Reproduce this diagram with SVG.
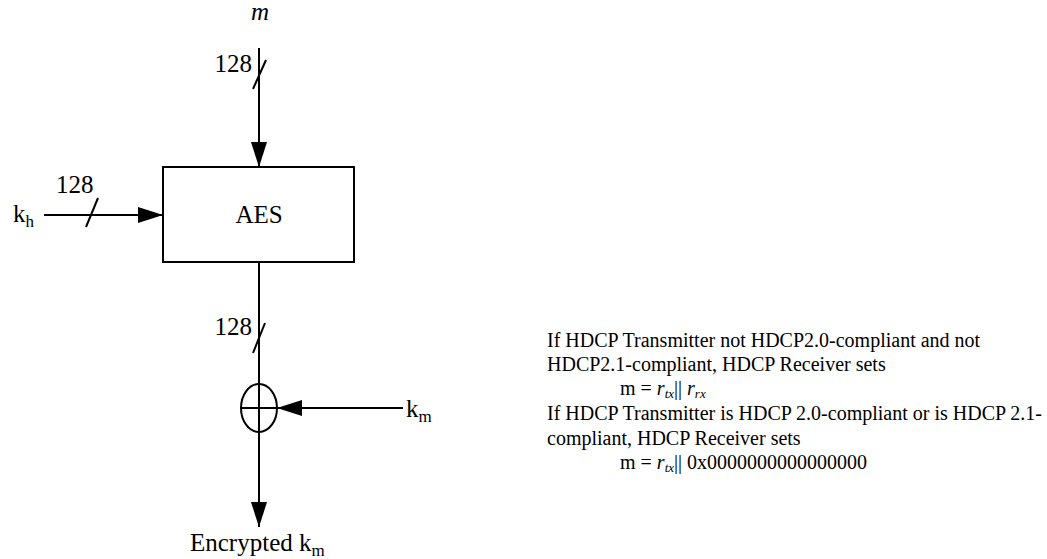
<svg xmlns="http://www.w3.org/2000/svg" width="1047" height="559" viewBox="0 0 1047 559" font-family="'Liberation Serif', 'Times New Roman', Times, serif">
<style>
.ln{stroke:#000;stroke-width:2;fill:none}
text{font-family:'Liberation Serif','Times New Roman',Times,serif;fill:#000}
.lbl{font-size:25px}
.note{font-size:20px}
.it{font-style:italic}
</style>
<defs>
<marker id="ah" markerWidth="25" markerHeight="16" refX="25" refY="8" orient="auto" markerUnits="userSpaceOnUse">
<path d="M0,0 L25,8 L0,16 Z" fill="#000"/>
</marker>
</defs>
<rect width="1047" height="559" fill="#fff"/>
<g id="aes">
<rect x="163" y="167" width="191" height="95" class="ln"/>
<text x="259" y="223" class="lbl" font-size="26" text-anchor="middle">AES</text>
</g>
<g id="xor">
<ellipse cx="259" cy="408" rx="18" ry="24" class="ln"/>
<line x1="241" y1="408" x2="277" y2="408" class="ln"/>
<line x1="259" y1="384" x2="259" y2="432" class="ln"/>
</g>
<g id="m-input">
<text x="260" y="20" class="lbl it" text-anchor="middle">m</text>
</g>
<g id="kh-input">
<text x="13" y="222" class="lbl">k<tspan font-size="17" dy="5">h</tspan></text>
</g>
<g id="km-input">
<text x="406" y="417" class="lbl">k<tspan font-size="17" dy="5">m</tspan></text>
</g>
<g id="output">
<text x="190" y="551" class="lbl">Encrypted k<tspan font-size="17" dy="5">m</tspan></text>
</g>
<g id="connectors">
<line x1="259" y1="48" x2="259" y2="167" class="ln" marker-end="url(#ah)"/>
<line x1="253" y1="89" x2="266" y2="60" class="ln"/>
<text x="252" y="72" class="lbl" text-anchor="end">128</text>
<line x1="44" y1="215" x2="163" y2="215" class="ln" marker-end="url(#ah)"/>
<line x1="86" y1="227" x2="98" y2="198" class="ln"/>
<text x="56" y="193" class="lbl">128</text>
<line x1="259" y1="262" x2="259" y2="384" class="ln"/>
<line x1="253" y1="353" x2="265" y2="323" class="ln"/>
<text x="252" y="335" class="lbl" text-anchor="end">128</text>
<line x1="403" y1="408" x2="277" y2="408" class="ln" marker-end="url(#ah)"/>
<line x1="259" y1="432" x2="259" y2="527" class="ln" marker-end="url(#ah)"/>
</g>
<g id="note">
<text x="547" y="347" class="note">If HDCP Transmitter not HDCP2.0-compliant and not</text>
<text x="547" y="371" class="note">HDCP2.1-compliant, HDCP Receiver sets</text>
<text x="620" y="395" class="note">m = <tspan class="it">r</tspan><tspan class="it" font-size="13" dy="3">tx</tspan><tspan dy="-3">|| </tspan><tspan class="it">r</tspan><tspan class="it" font-size="13" dy="3">rx</tspan></text>
<text x="547" y="420" class="note">If HDCP Transmitter is HDCP 2.0-compliant or is HDCP 2.1-</text>
<text x="547" y="445" class="note">compliant, HDCP Receiver sets</text>
<text x="620" y="469" class="note">m = <tspan class="it">r</tspan><tspan class="it" font-size="13" dy="3">tx</tspan><tspan dy="-3">|| 0x0000000000000000</tspan></text>
</g>
</svg>
